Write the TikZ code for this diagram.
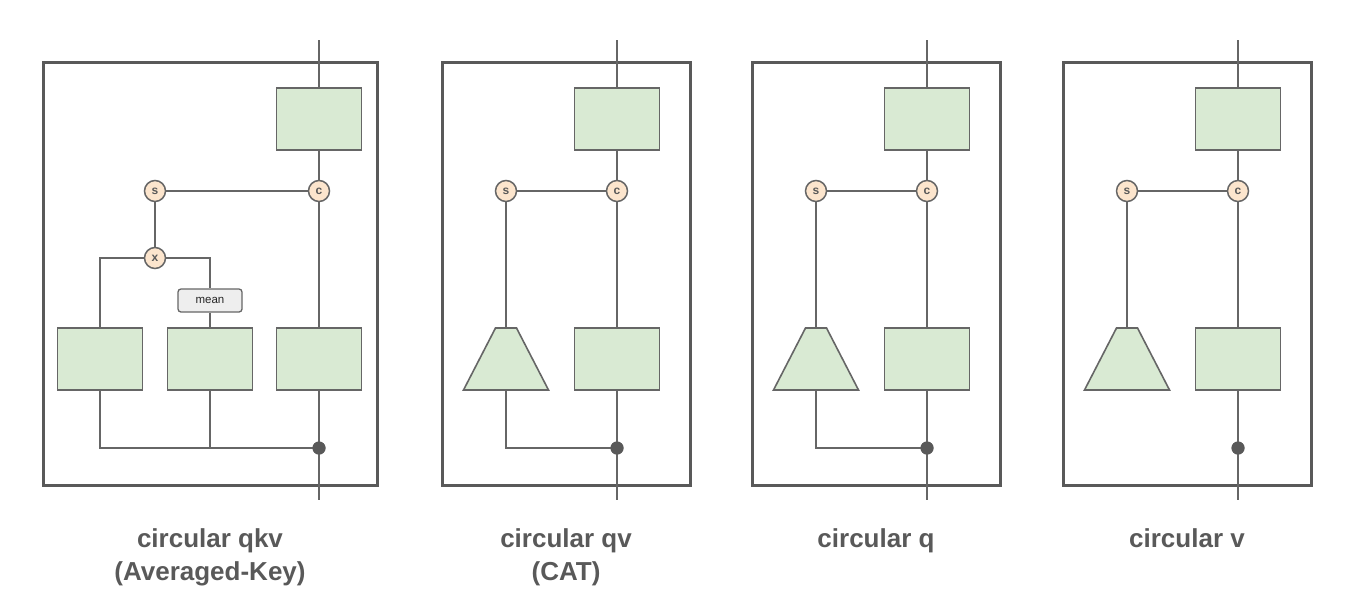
\documentclass[tikz,border=0pt]{standalone}
\usepackage{fontspec}
\setmainfont{Liberation Sans}
\usetikzlibrary{calc}
\definecolor{ln}{HTML}{666666}
\definecolor{frm}{HTML}{595959}
\definecolor{grn}{HTML}{D9EAD3}
\definecolor{peach}{HTML}{FCE5CD}
\definecolor{meanfill}{HTML}{EEEEEE}
\definecolor{txt}{HTML}{595959}
\begin{document}
\begin{tikzpicture}[x=1pt,y=-1pt,
  wire/.style={draw=ln,line width=2pt},
  frame/.style={draw=frm,line width=3pt},
  blk/.style={draw=ln,fill=grn,line width=1.6pt,minimum width=85pt,minimum height=62pt,inner sep=0pt},
  opc/.style={circle,draw=ln,fill=peach,line width=1.5pt,minimum size=21pt,inner sep=0pt,font=\bfseries\fontsize{12}{12}\selectfont,text=txt},
  meanbox/.style={rounded corners=3pt,draw=ln,fill=meanfill,line width=1.3pt,minimum width=64pt,minimum height=23pt,inner sep=0pt,font=\fontsize{11.5}{13}\selectfont,text=black!85},
  junc/.style={circle,fill=frm,minimum size=13pt,inner sep=0pt},
  trap/.style={draw=ln,fill=grn,line width=1.6pt,line join=miter},
  captxt/.style={font=\bfseries\fontsize{26}{33}\selectfont,text=txt,align=center,anchor=north,inner sep=0pt}
]
\useasboundingbox (0,0) rectangle (1370,598);

% ---------- panel 1 ----------
\draw[frame] (43,62) rectangle (377,485);
\coordinate (top1) at (319,40);
\coordinate (bot1) at (319,500);
\node[blk] (T1) at (319,119) {};
\node[blk] (A1) at (100,359) {};
\node[blk] (B1) at (210,359) {};
\node[blk] (C1) at (319,359) {};
\node[meanbox] (M1) at (210,300.5) {mean};
\node[junc] (d1) at (319,448) {};
\draw[wire] (top1) -- (T1.north);
\draw[wire] (T1.south) -- (319,191) coordinate (cpos1);
\draw[wire] (cpos1) -- (C1.north);
\draw[wire] (C1.south) -- (d1.center) -- (bot1);
\draw[wire] (155,191) coordinate (spos1) -- (cpos1);
\draw[wire] (spos1) -- (155,258) coordinate (xpos1);
\draw[wire] (xpos1) -| (A1.north);
\draw[wire] (xpos1) -| (M1.north);
\draw[wire] (M1.south) -- (B1.north);
\draw[wire] (A1.south) |- (d1.center);
\draw[wire] (B1.south) -- (B1.south |- d1.center);
\node[opc] (c1) at (cpos1) {c};
\node[opc] (s1) at (spos1) {s};
\node[opc] (x1) at (xpos1) {x};
\node[junc] at (d1) {};
\node[captxt] (L1) at (210,528) {circular qkv\\(Averaged-Key)};

% ---------- panels 2-4 ----------
\foreach \i/\L/\lab in {2/442/{circular qv\\(CAT)},3/752/{circular q},4/1063/{circular v}}{
  \begin{scope}[xshift=\L pt]
    \draw[frame] (0,62) rectangle (248,485);
    \coordinate (top\i) at (175,40);
    \coordinate (bot\i) at (175,500);
    \node[blk] (T\i) at (175,119) {};
    \node[blk] (C\i) at (175,359) {};
    \node[junc] (d\i) at (175,448) {};
    \coordinate (ptop\i) at (64,328);
    \coordinate (pbot\i) at (64,390);
    \draw[trap] ($(ptop\i)+(-10.5,0)$) -- ($(ptop\i)+(10.5,0)$) -- ($(pbot\i)+(42.5,0)$) -- ($(pbot\i)+(-42.5,0)$) -- cycle;
    \draw[wire] (top\i) -- (T\i.north);
    \draw[wire] (T\i.south) -- (175,191) coordinate (cpos\i);
    \draw[wire] (cpos\i) -- (C\i.north);
    \draw[wire] (C\i.south) -- (d\i.center) -- (bot\i);
    \draw[wire] (64,191) coordinate (spos\i) -- (cpos\i);
    \draw[wire] (spos\i) -- (ptop\i);
    \node[opc] (c\i) at (cpos\i) {c};
    \node[opc] (s\i) at (spos\i) {s};
    \node[captxt] (L\i) at (124,528) {\lab};
  \end{scope}
}
\draw[wire] (pbot2) |- (d2.center);
\draw[wire] (pbot3) |- (d3.center);
\node[junc] at (d2) {};
\node[junc] at (d3) {};
\node[junc] at (d4) {};
\end{tikzpicture}
\end{document}
